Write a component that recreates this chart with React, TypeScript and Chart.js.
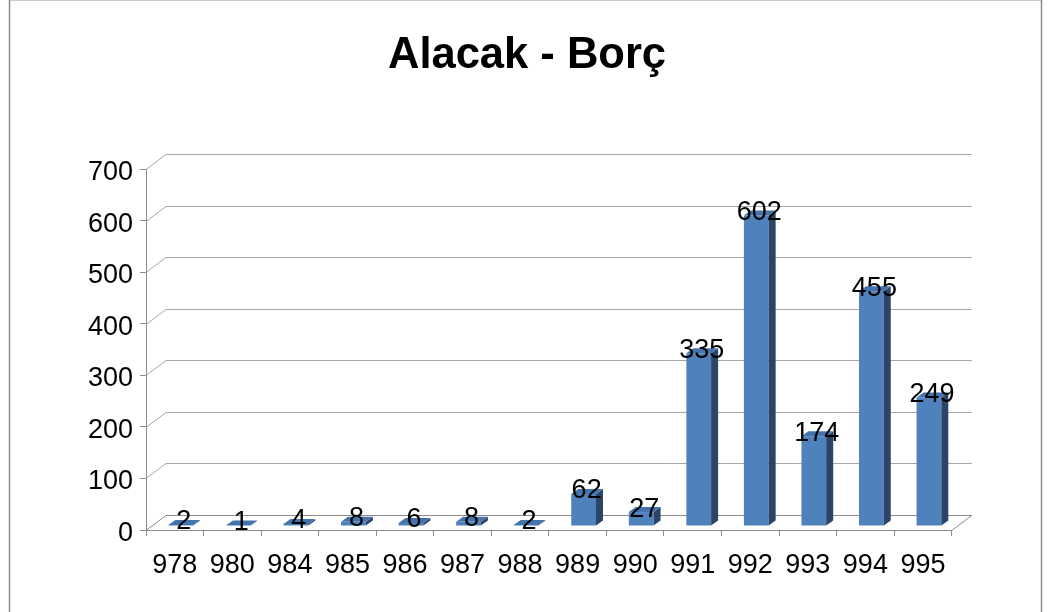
import React, { useEffect, useRef } from 'react';
import { Chart, registerables } from 'chart.js';

Chart.register(...registerables);

const categories = ['978', '980', '984', '985', '986', '987', '988', '989', '990', '991', '992', '993', '994', '995'];
const values = [2, 1, 4, 8, 6, 8, 2, 62, 27, 335, 602, 174, 455, 249];
const yTicks = [0, 100, 200, 300, 400, 500, 600, 700];
const chartTitle = 'Alacak - Borç';

const FONT = "'Liberation Sans', Arial, sans-serif";
const WALL_DX = 20;
const WALL_DY = -15;
const BAR_DX = 6;
const BAR_DY = -4;
const DEPTH_X = 7;
const DEPTH_Y = -5;
const FRONT = '#4F81BD';
const SIDE = '#2A4567';
const TOP = '#4474AE';
const GRID = '#a6a6a6';
const AXIS = '#8c8c8c';

const threeD = {
  id: 'threeD',
  beforeDraw(chart: any) {
    const ctx = chart.ctx;
    ctx.save();
    ctx.fillStyle = '#ffffff';
    ctx.fillRect(0, 0, chart.width, chart.height);
    ctx.strokeStyle = '#cccccc';
    ctx.lineWidth = 1;
    ctx.beginPath();
    ctx.moveTo(9, 0.5);
    ctx.lineTo(1042, 0.5);
    ctx.stroke();
    ctx.strokeStyle = AXIS;
    ctx.lineWidth = 1.5;
    ctx.beginPath();
    ctx.moveTo(9.5, 0);
    ctx.lineTo(9.5, chart.height);
    ctx.moveTo(1041.5, 0);
    ctx.lineTo(1041.5, chart.height);
    ctx.stroke();
    ctx.fillStyle = '#000000';
    ctx.font = `bold 43.5px ${FONT}`;
    ctx.textAlign = 'center';
    ctx.textBaseline = 'middle';
    ctx.fillText(chartTitle, 527, 56);
    ctx.restore();
  },
  beforeDatasetsDraw(chart: any) {
    const { ctx, chartArea: a, scales } = chart;
    const y = scales.y;
    ctx.save();
    ctx.lineWidth = 1;
    for (const v of yTicks) {
      const py = Math.round(y.getPixelForValue(v)) + 0.5;
      ctx.strokeStyle = v === 0 ? AXIS : GRID;
      ctx.beginPath();
      ctx.moveTo(a.left, py);
      ctx.lineTo(a.left + WALL_DX, py + WALL_DY);
      ctx.lineTo(a.right + WALL_DX, py + WALL_DY);
      ctx.stroke();
    }
    const p0 = Math.round(y.getPixelForValue(0)) + 0.5;
    ctx.strokeStyle = AXIS;
    ctx.beginPath();
    ctx.moveTo(a.right, p0);
    ctx.lineTo(a.right + WALL_DX, p0 + WALL_DY);
    ctx.stroke();
    ctx.restore();
    ctx.save();
    ctx.translate(BAR_DX, BAR_DY);
  },
  afterDatasetsDraw(chart: any) {
    const ctx = chart.ctx;
    const meta = chart.getDatasetMeta(0);
    meta.data.forEach((bar: any) => {
      const { x, y, base, width } = bar.getProps(['x', 'y', 'base', 'width'], true);
      const l = x - width / 2;
      const r = x + width / 2;
      ctx.fillStyle = SIDE;
      ctx.beginPath();
      ctx.moveTo(r, base);
      ctx.lineTo(r, y);
      ctx.lineTo(r + DEPTH_X, y + DEPTH_Y);
      ctx.lineTo(r + DEPTH_X, base + DEPTH_Y);
      ctx.closePath();
      ctx.fill();
      ctx.fillStyle = TOP;
      ctx.beginPath();
      ctx.moveTo(l, y);
      ctx.lineTo(r, y);
      ctx.lineTo(r + DEPTH_X, y + DEPTH_Y);
      ctx.lineTo(l + DEPTH_X, y + DEPTH_Y);
      ctx.closePath();
      ctx.fill();
    });
    ctx.fillStyle = '#000000';
    ctx.font = `27px ${FONT}`;
    ctx.textAlign = 'center';
    ctx.textBaseline = 'middle';
    meta.data.forEach((bar: any, i: number) => {
      const { x, y } = bar.getProps(['x', 'y'], true);
      ctx.fillText(String(values[i]), x + 3, y - 3);
    });
    ctx.restore();
  },
};

export default function App() {
  const ref = useRef<HTMLCanvasElement>(null);
  useEffect(() => {
    document.body.style.margin = '0';
    const chart = new Chart(ref.current as HTMLCanvasElement, {
      type: 'bar',
      data: {
        labels: categories,
        datasets: [
          {
            data: values,
            backgroundColor: FRONT,
            borderWidth: 0,
            categoryPercentage: 1,
            barPercentage: 0.43,
            clip: false as any,
          },
        ],
      },
      options: {
        responsive: false,
        animation: false,
        devicePixelRatio: 1,
        layout: { padding: { left: 0, right: 97.3, top: 169, bottom: 0 } },
        plugins: {
          legend: { display: false },
          tooltip: { enabled: false },
          title: { display: false },
        },
        scales: {
          x: {
            afterFit: (s: any) => {
              s.height = 82;
            },
            grid: {
              display: true,
              drawOnChartArea: false,
              drawTicks: true,
              tickLength: 6,
              color: AXIS,
              offset: true,
            },
            border: { display: true, color: AXIS, width: 1 },
            ticks: {
              color: '#000000',
              font: { family: FONT, size: 27 },
              padding: 13,
              maxRotation: 0,
              autoSkip: false,
            },
          },
          y: {
            min: 0,
            max: 700,
            afterFit: (s: any) => {
              s.width = 146;
            },
            grid: {
              display: true,
              drawOnChartArea: false,
              drawTicks: true,
              tickLength: 6,
              color: AXIS,
            },
            border: { display: true, color: AXIS, width: 1 },
            ticks: {
              stepSize: 100,
              color: '#000000',
              font: { family: FONT, size: 27 },
              padding: 7,
              labelOffset: 3.5,
            },
          },
        },
      },
      plugins: [threeD],
    });
    return () => chart.destroy();
  }, []);
  return (
    <div style={{ width: 1049, height: 612 }}>
      <canvas ref={ref} width={1049} height={612} style={{ display: 'block' }} />
    </div>
  );
}
